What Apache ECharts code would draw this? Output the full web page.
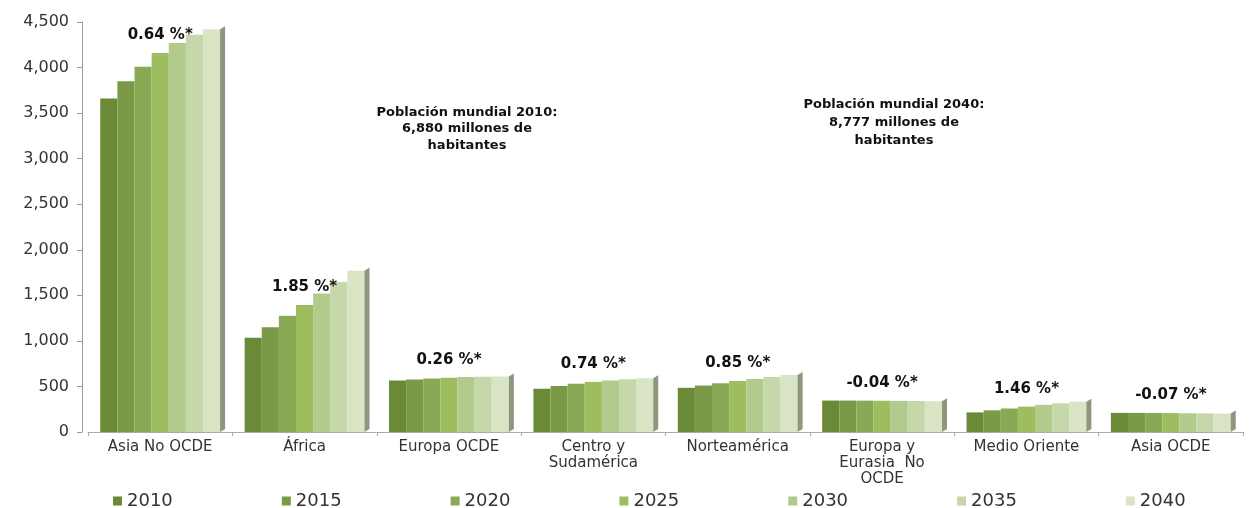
<!DOCTYPE html>
<html>
<head>
<meta charset="utf-8">
<script src="https://cdn.jsdelivr.net/npm/echarts@6/dist/echarts.min.js"></script>
<style>
html,body{margin:0;padding:0;background:#fff;}
#chart{width:1251px;height:508px;}
</style>
</head>
<body>
<div id="chart"></div>
<script>
const categories = ['Asia No OCDE', 'África', 'Europa OCDE', 'Centro y\nSudamérica', 'Norteamérica', 'Europa y\nEurasia  No\nOCDE', 'Medio Oriente', 'Asia OCDE'];
const years = ['2010', '2015', '2020', '2025', '2030', '2035', '2040'];
const v2010 = [3660, 1035, 565, 475, 485, 345, 215, 210];
const v2015 = [3850, 1150, 577, 505, 510, 345, 238, 210];
const v2020 = [4010, 1275, 588, 530, 535, 344, 258, 209];
const v2025 = [4160, 1395, 596, 550, 560, 343, 278, 208];
const v2030 = [4270, 1520, 603, 565, 582, 342, 298, 206];
const v2035 = [4360, 1645, 607, 578, 603, 340, 315, 204];
const v2040 = [4420, 1770, 610, 590, 625, 338, 333, 202];
const growth = ['0.64 %*', '1.85 %*', '0.26 %*', '0.74 %*', '0.85 %*', '-0.04 %*', '1.46 %*', '-0.07 %*'];
const yTicks = [0, 500, 1000, 1500, 2000, 2500, 3000, 3500, 4000, 4500];
const note2010 = 'Población mundial 2010:\n6,880 millones de\nhabitantes';
const note2040 = 'Población mundial 2040:\n8,777 millones de\nhabitantes';

const seriesValues = [v2010, v2015, v2020, v2025, v2030, v2035, v2040];
const colors = ['#6a8a37', '#7a9a48', '#89aa55', '#9dbd5e', '#b2cb8c', '#c6d7aa', '#d9e4c4'];
const CAT_GAP = 0.17;

const chart = echarts.init(document.getElementById('chart'));
const series = seriesValues.map((vals, i) => {
  const s = {
    name: years[i],
    type: 'bar',
    data: vals,
    barGap: '0%',
    barCategoryGap: (CAT_GAP * 100) + '%',
    itemStyle: { color: colors[i] }
  };
  if (i === 3) {
    s.label = {
      show: true,
      position: 'top',
      distance: 10,
      formatter: p => growth[p.dataIndex],
      fontFamily: 'DejaVu Sans',
      fontWeight: 'bold',
      fontSize: 15,
      color: '#111'
    };
  }
  return s;
});

// 3D side face to the right of each group
series.push({
  type: 'custom',
  name: 'side',
  silent: true,
  data: v2040.map((v, i) => [i, v]),
  renderItem: function (params, api) {
    const top = api.coord([api.value(0), api.value(1)]);
    const base = api.coord([api.value(0), 0]);
    const band = api.size([1, 0])[0];
    const right = top[0] + band * (1 - CAT_GAP) / 2;
    const d = 5, dy = 3;
    return {
      type: 'polygon',
      shape: { points: [[right, top[1]], [right + d, top[1] - dy], [right + d, base[1] - dy], [right, base[1]]] },
      style: { fill: '#8b977f' }
    };
  },
  z: 3
});

chart.setOption({
  animation: false,
  backgroundColor: '#fff',
  grid: { left: 88, right: 8, top: 22, bottom: 76 },
  legend: {
    data: years,
    left: 108,
    top: 487,
    itemWidth: 9,
    itemHeight: 9,
    itemGap: 109,
    icon: 'rect',
    textStyle: { fontFamily: 'DejaVu Sans', fontSize: 18, color: '#333' }
  },
  xAxis: {
    type: 'category',
    data: categories,
    axisLine: { lineStyle: { color: '#aaa', width: 1 } },
    axisTick: { show: true, length: 4, lineStyle: { color: '#aaa' } },
    axisLabel: { interval: 0, fontFamily: 'DejaVu Sans', fontSize: 15, color: '#333', lineHeight: 16, margin: 7 }
  },
  yAxis: {
    type: 'value',
    min: 0,
    max: 4500,
    interval: 500,
    offset: 6,
    axisLine: { show: true, lineStyle: { color: '#999' } },
    axisTick: { show: true, length: 5, lineStyle: { color: '#999' } },
    splitLine: { show: false },
    axisLabel: {
      fontFamily: 'DejaVu Sans',
      fontSize: 16,
      color: '#333',
      margin: 13,
      formatter: v => yTicks.includes(v) ? v.toLocaleString('en-US') : ''
    }
  },
  graphic: [
    {
      type: 'text', x: 467, y: 104,
      style: { text: note2010, fontFamily: 'DejaVu Sans', fontWeight: 'bold', fontSize: 13, fill: '#111', align: 'center', verticalAlign: 'top', lineHeight: 16.5 }
    },
    {
      type: 'text', x: 894, y: 96,
      style: { text: note2040, fontFamily: 'DejaVu Sans', fontWeight: 'bold', fontSize: 13, fill: '#111', align: 'center', verticalAlign: 'top', lineHeight: 18 }
    }
  ],
  series: series
});
</script>
</body>
</html>
